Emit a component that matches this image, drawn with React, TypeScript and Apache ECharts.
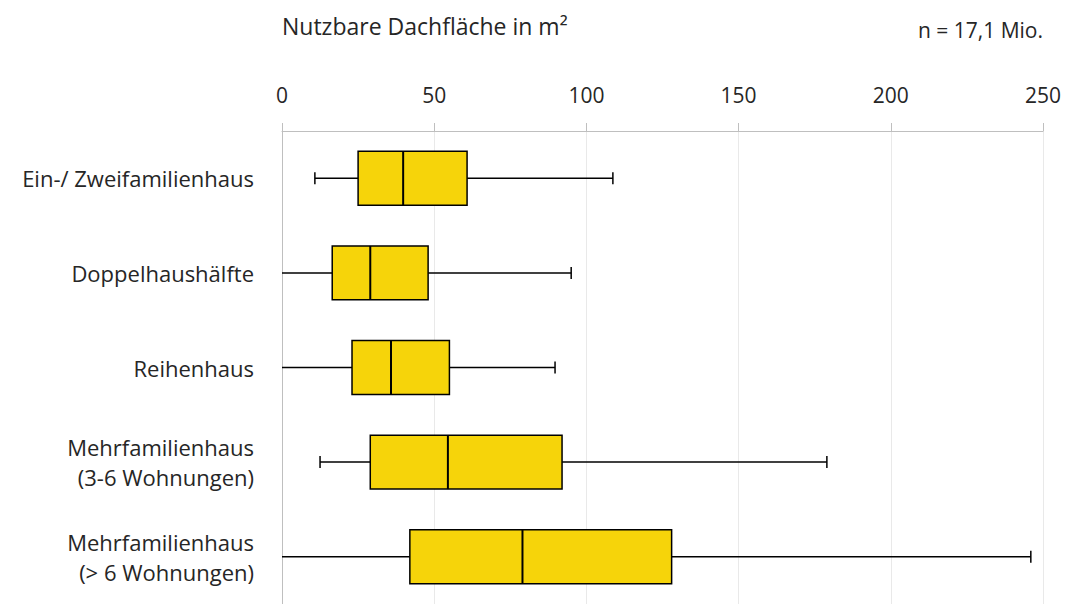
import React, { useEffect, useRef } from 'react';
import * as echarts from 'echarts';

const categories = [
  'Ein-/ Zweifamilienhaus',
  'Doppelhaushälfte',
  'Reihenhaus',
  'Mehrfamilienhaus\n(3-6 Wohnungen)',
  'Mehrfamilienhaus\n(> 6 Wohnungen)',
];
const whiskerLow = [10.8, 0, 0, 12.5, 0];
const q1 = [25, 16.5, 23, 29, 42];
const median = [39.8, 29, 35.8, 54.5, 79];
const q3 = [60.8, 48, 55, 92, 128];
const whiskerHigh = [108.7, 95, 89.7, 179, 246];
const xTickMin = 0;
const xTickMax = 250;
const xTickStep = 50;

const FONT = '"Open Sans", "Noto Sans", sans-serif';
const TEXT = '#262626';
const BOX_FILL = '#F6D40A';

export default function App() {
  const ref = useRef<HTMLDivElement>(null);
  useEffect(() => {
    if (!ref.current) return;
    const chart = echarts.init(ref.current, null, { renderer: 'svg' });
    const data = categories.map((_, i) => [i, whiskerLow[i], q1[i], median[i], q3[i], whiskerHigh[i]]);
    chart.setOption({
      animation: false,
      backgroundColor: '#ffffff',
      textStyle: { fontFamily: FONT },
      title: [
        {
          text: 'Nutzbare Dachfläche in m²',
          left: 277,
          top: 9,
          textStyle: { fontFamily: FONT, fontSize: 23, fontWeight: 'normal', color: TEXT },
        },
        {
          text: 'n = 17,1 Mio.',
          right: 19,
          top: 14,
          textStyle: { fontFamily: FONT, fontSize: 21, fontWeight: 'normal', color: TEXT },
        },
      ],
      grid: { left: 282, width: 761, top: 131, height: 485 },
      xAxis: {
        type: 'value',
        position: 'top',
        min: xTickMin,
        max: xTickMax,
        interval: xTickStep,
        axisLine: { show: true, lineStyle: { color: '#BFBFBF', width: 1 } },
        axisTick: { show: true, length: 8, lineStyle: { color: '#BFBFBF' } },
        axisLabel: { fontFamily: FONT, fontSize: 21, color: TEXT, margin: 26 },
        splitLine: { show: true, lineStyle: { color: '#E9E9E9', width: 1 } },
      },
      yAxis: {
        type: 'category',
        data: categories,
        inverse: true,
        axisLine: { show: true, lineStyle: { color: '#BFBFBF', width: 1 } },
        axisTick: { show: false },
        axisLabel: { fontFamily: FONT, fontSize: 22, color: TEXT, margin: 28, lineHeight: 30, align: 'right' },
        splitLine: { show: false },
      },
      series: [
        {
          type: 'custom',
          clip: false,
          encode: { x: [1, 2, 3, 4, 5], y: 0 },
          data,
          renderItem: (params: any, api: any) => {
            const cat = api.value(0);
            const lo = api.value(1);
            const a = api.value(2);
            const m = api.value(3);
            const b = api.value(4);
            const hi = api.value(5);
            const band = api.size([0, 1])[1];
            const half = band * 0.285;
            const cap = 6;
            const pLo = api.coord([lo, cat]);
            const pA = api.coord([a, cat]);
            const pM = api.coord([m, cat]);
            const pB = api.coord([b, cat]);
            const pHi = api.coord([hi, cat]);
            const y = pM[1];
            const lineStyle = { stroke: '#000', lineWidth: 1.5 };
            const children: any[] = [
              { type: 'line', shape: { x1: pLo[0], y1: y, x2: pA[0], y2: y }, style: lineStyle },
              { type: 'line', shape: { x1: pB[0], y1: y, x2: pHi[0], y2: y }, style: lineStyle },
              { type: 'line', shape: { x1: pHi[0], y1: y - cap, x2: pHi[0], y2: y + cap }, style: lineStyle },
            ];
            if (lo > 0) {
              children.push({ type: 'line', shape: { x1: pLo[0], y1: y - cap, x2: pLo[0], y2: y + cap }, style: lineStyle });
            }
            children.push({
              type: 'rect',
              shape: { x: pA[0], y: y - half, width: pB[0] - pA[0], height: half * 2 },
              style: { fill: BOX_FILL, stroke: '#000', lineWidth: 1.5 },
            });
            children.push({ type: 'line', shape: { x1: pM[0], y1: y - half, x2: pM[0], y2: y + half }, style: { stroke: '#000', lineWidth: 2 } });
            return { type: 'group', children };
          },
        },
      ],
    });
    return () => chart.dispose();
  }, []);
  return <div ref={ref} style={{ position: 'absolute', left: 0, top: 0, width: 1067, height: 604 }} />;
}
